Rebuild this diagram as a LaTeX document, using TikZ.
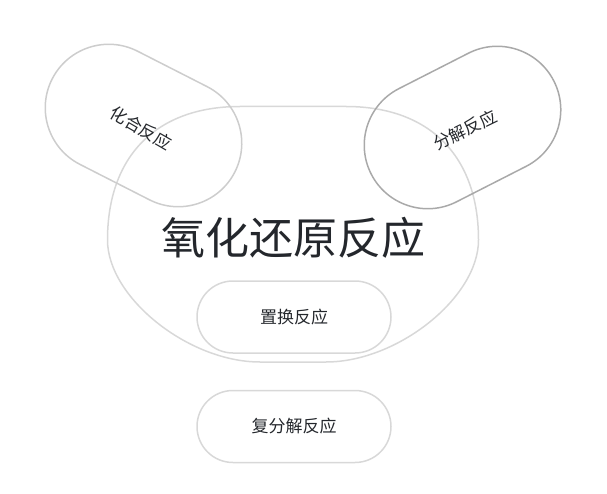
\documentclass[tikz,border=0pt]{standalone}
\usepackage{fontspec}
\newfontfamily\cjk{Noto Sans CJK SC}
\usetikzlibrary{shapes.misc}
\definecolor{txt}{HTML}{24272C}
\definecolor{lineA}{HTML}{D8D8D8}
\definecolor{lineB}{HTML}{CDCDCD}
\definecolor{lineC}{HTML}{A9A9A9}
\tikzset{
  pill/.style={rounded rectangle, draw=lineA, line width=1.5pt, inner sep=0pt,
    text=txt, font=\cjk\fontsize{17}{20}\selectfont},
  label17/.style={text=txt, font=\cjk\fontsize{17}{20}\selectfont, inner sep=0pt},
  bigline/.style={draw=lineA, line width=1.5pt},
}
\begin{document}
\begin{tikzpicture}[x=1pt,y=-1pt]
\useasboundingbox (0,0) rectangle (607,494);
% large rounded outline of the redox set
\draw[bigline] (107.5,240)
  .. controls (107.5,156) and (156.5,106.5) .. (240,106.5)
  -- (346,106.5)
  .. controls (429.5,106.5) and (478.5,156) .. (478.5,240)
  .. controls (478.5,297.3) and (397.7,362) .. (326,362)
  -- (260,362)
  .. controls (188.3,362) and (107.5,297.3) .. (107.5,240) -- cycle;
\node[text=txt, font=\cjk\fontsize{44}{50}\selectfont, inner sep=0pt] (redoxlabel) at (293.5,237.5) {氧化还原反应};
\node[pill, minimum width=194pt, minimum height=72pt] (zhihuan) at (294,317) {置换反应};
\node[pill, minimum width=194pt, minimum height=72pt] (fufenjie) at (294,426.5) {复分解反应};
\node[pill, draw=lineB, minimum width=205pt, minimum height=127pt, rotate=-27] (huahe) at (143.5,125.5) {};
\node[label17, rotate=-30] (huahelabel) at (141,128) {化合反应};
\node[pill, draw=lineC, minimum width=205pt, minimum height=127pt, rotate=27] (fenjie) at (462.5,127.5) {};
\node[label17, rotate=26] (fenjielabel) at (465,130) {分解反应};
\end{tikzpicture}
\end{document}
